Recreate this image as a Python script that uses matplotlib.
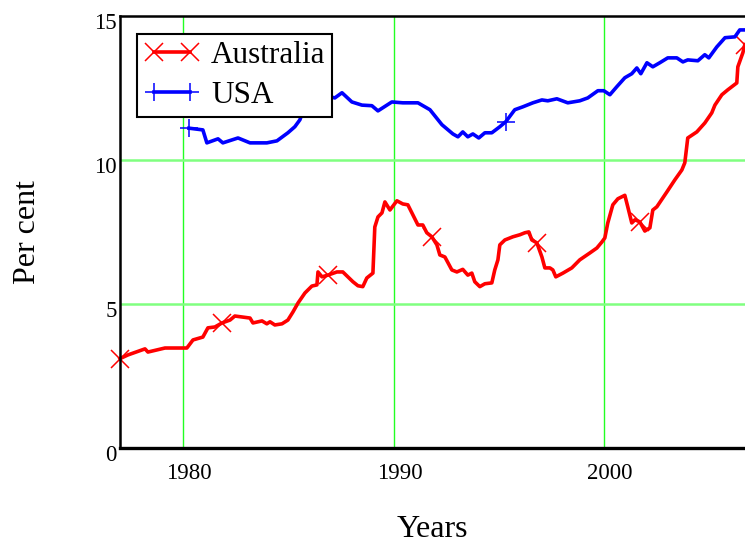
import matplotlib
matplotlib.use('Agg')
import matplotlib.pyplot as plt
import matplotlib.transforms as mtransforms
from matplotlib import rcParams

# Australia series (year, per cent)
aus_years = [1977.0, 1977.38, 1978.19, 1978.33, 1979.14, 1979.95, 1980.18, 1980.47, 1980.94,
             1981.18, 1981.51, 1981.85, 1982.23, 1982.46, 1983.18, 1983.32, 1983.75, 1983.98,
             1984.13, 1984.36, 1984.70, 1984.98, 1985.22, 1985.46, 1985.79, 1986.12, 1986.36,
             1986.41, 1986.60, 1986.88, 1987.31, 1987.59, 1987.83, 1988.07, 1988.31, 1988.54,
             1988.73, 1989.02, 1989.11, 1989.26, 1989.45, 1989.59, 1989.83, 1990.16, 1990.44,
             1990.68, 1990.92, 1991.16, 1991.39, 1991.58, 1991.82, 1992.06, 1992.20, 1992.44,
             1992.77, 1993.01, 1993.29, 1993.53, 1993.72, 1993.86, 1994.10, 1994.34, 1994.67,
             1994.81, 1994.96, 1995.05, 1995.29, 1995.67, 1996.00, 1996.24, 1996.43, 1996.57,
             1996.81, 1997.05, 1997.19, 1997.43, 1997.57, 1997.71, 1998.05, 1998.47, 1998.85,
             1999.33, 1999.66, 1999.90, 2000.04, 2000.18, 2000.42, 2000.66, 2000.99, 2001.13,
             2001.32, 2001.47, 2001.70, 2001.94, 2002.18, 2002.32, 2002.51, 2002.99, 2003.37,
             2003.70, 2003.84, 2003.98, 2004.41, 2004.79, 2005.12, 2005.27, 2005.60, 2005.88,
             2006.31, 2006.36, 2006.60, 2006.69]
aus_vals = [3.10, 3.23, 3.44, 3.33, 3.47, 3.47, 3.47, 3.75, 3.85,
            4.17, 4.20, 4.34, 4.44, 4.58, 4.51, 4.34, 4.41, 4.31,
            4.38, 4.27, 4.31, 4.44, 4.72, 5.03, 5.38, 5.62, 5.66,
            6.11, 5.94, 6.00, 6.11, 6.11, 5.94, 5.77, 5.63, 5.60,
            5.90, 6.07, 7.67, 8.02, 8.16, 8.54, 8.26, 8.58, 8.47,
            8.44, 8.09, 7.74, 7.74, 7.47, 7.33, 7.05, 6.70, 6.63,
            6.18, 6.11, 6.20, 6.00, 6.07, 5.77, 5.60, 5.70, 5.73,
            6.18, 6.53, 7.05, 7.22, 7.33, 7.40, 7.47, 7.50, 7.22,
            7.12, 6.63, 6.25, 6.25, 6.18, 5.94, 6.07, 6.25, 6.53,
            6.77, 6.94, 7.15, 7.29, 7.81, 8.44, 8.65, 8.77, 8.37,
            7.81, 7.92, 7.85, 7.53, 7.64, 8.26, 8.37, 8.89, 9.31,
            9.65, 9.90, 10.76, 10.97, 11.28, 11.63, 11.90, 12.26, 12.43,
            12.67, 13.23, 13.72, 14.00]
aus_marks = [1977.0, 1981.85, 1986.88, 1991.82, 1996.81, 2001.70, 2006.69]

# USA series
usa_years = [1980.28, 1980.94, 1981.13, 1981.66, 1981.89, 1982.61, 1983.18, 1983.98, 1984.46,
             1984.98, 1985.31, 1985.55, 1985.69, 1986.26, 1986.98, 1987.21, 1987.55, 1988.02,
             1988.50, 1988.97, 1989.26, 1989.92, 1990.44, 1991.16, 1991.73, 1992.30, 1992.82,
             1993.06, 1993.29, 1993.53, 1993.77, 1994.05, 1994.34, 1994.67, 1995.05, 1995.34,
             1995.76, 1996.14, 1996.62, 1997.05, 1997.33, 1997.76, 1998.28, 1998.85, 1999.23,
             1999.71, 1999.99, 2000.28, 2000.61, 2000.99, 2001.32, 2001.56, 2001.75, 2002.04,
             2002.32, 2002.65, 2003.03, 2003.46, 2003.75, 2003.98, 2004.46, 2004.79, 2004.98,
             2005.36, 2005.75, 2006.22, 2006.45, 2006.83]
usa_vals = [11.10, 11.04, 10.59, 10.73, 10.59, 10.76, 10.59, 10.59, 10.66,
            10.94, 11.15, 11.39, 11.67, 12.00, 12.19, 12.15, 12.33, 12.01,
            11.90, 11.88, 11.70, 12.01, 11.98, 11.98, 11.74, 11.22, 10.90,
            10.80, 10.97, 10.80, 10.90, 10.76, 10.94, 10.94, 11.15, 11.33,
            11.74, 11.84, 11.98, 12.08, 12.05, 12.12, 11.98, 12.05, 12.15,
            12.40, 12.40, 12.26, 12.54, 12.85, 12.99, 13.19, 12.99, 13.37,
            13.23, 13.37, 13.54, 13.54, 13.40, 13.47, 13.44, 13.65, 13.54,
            13.92, 14.24, 14.27, 14.51, 14.51]
usa_marks = [1980.28, 1995.34]

x_ticks = [1980, 1990, 2000]
y_ticks = [0, 5, 10, 15]

rcParams['font.family'] = 'serif'
rcParams['font.serif'] = ['Liberation Serif']

fig = plt.figure(figsize=(7.45, 5.45), dpi=100)
ax = fig.add_axes([0.161, 0.178, 0.839, 0.793])

for x in x_ticks:
    ax.axvline(x, color='#22ff22', lw=1.0, zorder=0)
for y in y_ticks[1:-1]:
    ax.axhline(y, color='#80ff80', lw=1.8, zorder=0)

ax.plot(aus_years, aus_vals, color='#ff0000', lw=2.6, marker='x', markersize=13,
        markeredgewidth=1.1, markevery=[aus_years.index(m) for m in aus_marks],
        label='Australia', clip_on=False)
ax.plot(usa_years, usa_vals, color='#0000ff', lw=2.6, marker='+', markersize=13,
        markeredgewidth=1.1, markevery=[usa_years.index(m) for m in usa_marks],
        label='USA')

ax.set_xlim(1977, 2006.7)
ax.set_ylim(0, 15)
ax.set_xticks(x_ticks)
ax.set_yticks(y_ticks)
ax.tick_params(length=0, labelsize=16.5)
ax.tick_params(axis='x', pad=11)
ax.tick_params(axis='y', pad=2.5)

# Mathcad-style label placement: x labels sit right of the line, y labels sit low
dx = mtransforms.ScaledTranslation(6 / 100, 0, fig.dpi_scale_trans)
dy = mtransforms.ScaledTranslation(0, -5 / 100, fig.dpi_scale_trans)
for lab in ax.get_xticklabels():
    lab.set_transform(lab.get_transform() + dx)
for lab in ax.get_yticklabels():
    lab.set_transform(lab.get_transform() + dy)

ax.spines['right'].set_visible(False)
ax.spines['left'].set_linewidth(1.8)
ax.spines['top'].set_linewidth(1.8)
ax.spines['bottom'].set_linewidth(2.4)

ax.set_xlabel('Years', fontsize=23, labelpad=22)
ax.set_ylabel('Per cent', fontsize=23, labelpad=37)

leg = ax.legend(loc='upper left', bbox_to_anchor=(0.028, 0.958), fontsize=22.5,
                numpoints=2, handlelength=1.75, fancybox=False, framealpha=1,
                edgecolor='black', borderpad=0.22, labelspacing=0.37, handletextpad=0.38,
                borderaxespad=0)
leg.get_frame().set_linewidth(1.5)

fig.savefig('out.png', dpi=100)
